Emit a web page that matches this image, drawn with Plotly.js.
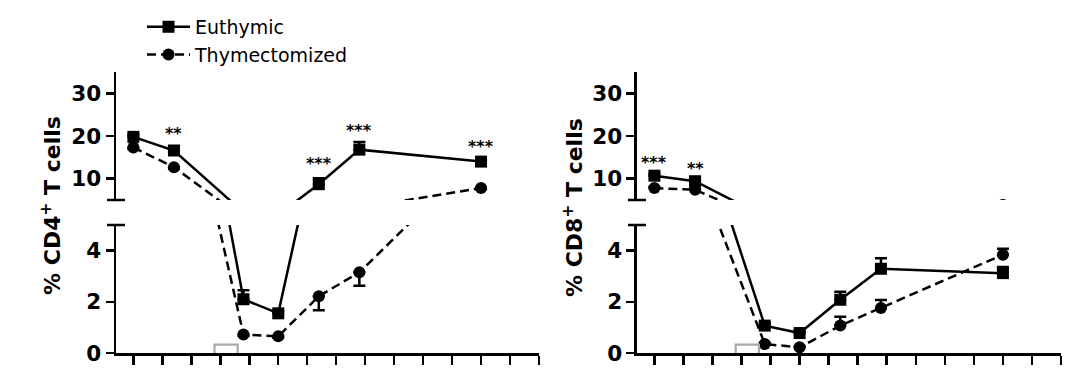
<!DOCTYPE html>
<html>
<head>
<meta charset="utf-8">
<script src="https://cdn.plot.ly/plotly-3.0.1.min.js"></script>
<style>html,body{margin:0;padding:0;background:#fff;}#chart{width:1080px;height:377px;}</style>
</head>
<body>
<div id="chart"></div>
<script>
// ---- data (x in axis-tick units) ----
const timepoints = [0, 1.4, 3.8, 5, 6.4, 7.8, 12];
const xTicks = [0,1,2,3,4,5,6,7,8,9,10,11,12,13,14];
const seriesNames = ['Euthymic', 'Thymectomized'];

const cd4Euthymic      = [19.8, 16.6, 2.1, 1.55, 8.7, 16.8, 14.0];
const cd4EuthymicErr   = [0.5, 0.9, 0.35, 0.1, 1.4, 1.8, 0.4];
const cd4EuthymicErrDn = [0, 0, 0, 0, 0, 0, 0];
const cd4Thymect       = [17.3, 12.7, 0.72, 0.65, 2.22, 3.15, 7.8];
const cd4ThymectErrUp  = [0, 0, 0, 0, 0, 0, 0];
const cd4ThymectErr    = [0.4, 0.4, 0.05, 0.05, 0.55, 0.52, 0.3];

const cd8Euthymic      = [10.7, 9.4, 1.07, 0.78, 2.08, 3.29, 3.12];
const cd8EuthymicErr   = [0.4, 0.8, 0.1, 0.08, 0.31, 0.41, 0.24];
const cd8EuthymicErrDn = [0, 0, 0, 0, 0, 0, 0];
const cd8Thymect       = [7.8, 7.4, 0.35, 0.22, 1.07, 1.76, 3.84];
const cd8ThymectErr    = [0.3, 0.3, 0.05, 0.05, 0.35, 0.31, 0.23];
const cd8ThymectErrDn  = [0, 0, 0, 0, 0, 0, 0];

const lowerTicks = [0, 2, 4];
const upperTicks = [10, 20, 30];
const lowerRange = [0, 5];
const upperRange = [5, 35];

// significance labels
const cd4SigX = [1.4, 6.4, 7.8, 12];
const cd4SigY = [20.9, 13.8, 21.5, 17.8];
const cd4SigText = ['**', '***', '***', '***'];
const cd8SigX = [0, 1.4];
const cd8SigY = [14.0, 12.7];
const cd8SigText = ['***', '**'];

const treatWindow = [2.8, 3.6];
const treatBox = [-0.05, 0.33];

const titles = ['% CD4<sup>+</sup> T cells', '% CD8<sup>+</sup> T cells'];

// ---- styling ----
const FONT = 'DejaVu Sans, Arial, sans-serif';
const LW = 2.5;

function trace(y, up, dn, name, isEu, xa, ya, showLegend) {
  return {
    type: 'scatter', mode: 'lines+markers',
    x: timepoints, y: y, name: name,
    xaxis: xa, yaxis: ya, showlegend: showLegend, legendgroup: name,
    line: {color: '#000', width: LW, dash: isEu ? 'solid' : '9px,5px'},
    marker: {symbol: isEu ? 'square' : 'circle', size: 12, color: '#000', line: {width: 0}},
    error_y: {type: 'data', symmetric: false, array: up, arrayminus: dn,
              color: '#000', thickness: LW, width: 6},
    cliponaxis: true,
    hoverinfo: 'skip'
  };
}

const data = [];
// CD4 panel: lower (x,y) and upper (x,y2)
[['x','y'],['x','y2']].forEach(([xa,ya]) => {
  data.push(trace(cd4Thymect, cd4ThymectErrUp, cd4ThymectErr, seriesNames[1], false, xa, ya, false));
  data.push(trace(cd4Euthymic, cd4EuthymicErr, cd4EuthymicErrDn, seriesNames[0], true, xa, ya, false));
});
// CD8 panel: lower (x2,y3) and upper (x2,y4)
[['x2','y3'],['x2','y4']].forEach(([xa,ya]) => {
  data.push(trace(cd8Thymect, cd8ThymectErr, cd8ThymectErrDn, seriesNames[1], false, xa, ya, false));
  data.push(trace(cd8Euthymic, cd8EuthymicErr, cd8EuthymicErrDn, seriesNames[0], true, xa, ya, false));
});
// legend entries
data[1].showlegend = true;
data[0].showlegend = true;

const tickFont = {family: FONT, size: 21.5, color: '#000', weight: 'bold'};

function xAxis(domain, anchor) {
  return {domain: domain, anchor: anchor, range: [-0.6, 14],
    showgrid: false, zeroline: false, showline: true, linecolor: '#000', linewidth: LW,
    ticks: 'outside', ticklen: 9, tickwidth: LW, tickcolor: '#000',
    tickmode: 'array', tickvals: xTicks, showticklabels: false, fixedrange: true};
}
function yAxis(domain, anchor, range, tvals) {
  return {domain: domain, anchor: anchor, range: range,
    showgrid: false, zeroline: false, showline: true, linecolor: '#000', linewidth: LW,
    ticks: 'outside', ticklen: 8, tickwidth: LW, tickcolor: '#000',
    tickmode: 'array', tickvals: tvals, ticktext: tvals.map(String),
    tickfont: tickFont, fixedrange: true, automargin: false};
}

const lowerDom = [0, 0.4555];
const upperDom = [0.5445, 1];
const leftDom = [0, 0.4476];
const rightDom = [0.5513, 1];

const shapes = [];
function breakCaps(xa, yLow, yUp) {
  shapes.push({type: 'line', xref: xa + ' domain', yref: yLow + ' domain',
    x0: -0.0213, x1: 0.0213, y0: 1, y1: 1, line: {color: '#000', width: LW}});
  shapes.push({type: 'line', xref: xa + ' domain', yref: yUp + ' domain',
    x0: -0.0213, x1: 0.0213, y0: 0, y1: 0, line: {color: '#000', width: LW}});
}
breakCaps('x', 'y', 'y2');
breakCaps('x2', 'y3', 'y4');
[['x','y'],['x2','y3']].forEach(([xa,ya]) => {
  shapes.push({type: 'rect', xref: xa, yref: ya, layer: 'above',
    x0: treatWindow[0], x1: treatWindow[1], y0: treatBox[0], y1: treatBox[1],
    line: {color: '#a8a8a8', width: 2.2}, fillcolor: 'rgba(255,255,255,0)'});
});

const annotations = [];
function sig(xs, ys, txt, xa, ya) {
  xs.forEach((xv, i) => annotations.push({x: xv, y: ys[i], xref: xa, yref: ya,
    text: txt[i], showarrow: false, xanchor: 'center', yanchor: 'middle', yshift: -1,
    font: {family: FONT, size: 16, color: '#000', weight: 'bold'}}));
}
sig(cd4SigX, cd4SigY, cd4SigText, 'x', 'y2');
sig(cd8SigX, cd8SigY, cd8SigText, 'x2', 'y4');
annotations.push({xref: 'paper', yref: 'paper', x: -0.0688, y: 0.527, text: titles[0],
  textangle: -90, showarrow: false, xanchor: 'center', yanchor: 'middle',
  font: {family: FONT, size: 22, color: '#000', weight: 'bold'}});
annotations.push({xref: 'paper', yref: 'paper', x: 0.4836, y: 0.516, text: titles[1],
  textangle: -90, showarrow: false, xanchor: 'center', yanchor: 'middle',
  font: {family: FONT, size: 22, color: '#000', weight: 'bold'}});

const layout = {
  width: 1080, height: 377,
  margin: {l: 116, r: 19, t: 72, b: 24, pad: 0, autoexpand: false},
  paper_bgcolor: '#fff', plot_bgcolor: 'rgba(0,0,0,0)',
  showlegend: true,
  legend: {x: 0.0275, y: 0.979, xref: 'paper', yref: 'container', xanchor: 'left', yanchor: 'top',
    bgcolor: 'rgba(0,0,0,0)', borderwidth: 0, itemwidth: 43,
    traceorder: 'reversed', font: {family: FONT, size: 19, color: '#000'}},
  xaxis: xAxis(leftDom, 'y'),
  xaxis2: xAxis(rightDom, 'y3'),
  yaxis: yAxis(lowerDom, 'x', lowerRange, lowerTicks),
  yaxis2: yAxis(upperDom, 'x', upperRange, upperTicks),
  yaxis3: yAxis(lowerDom, 'x2', lowerRange, lowerTicks),
  yaxis4: yAxis(upperDom, 'x2', upperRange, upperTicks),
  shapes: shapes,
  annotations: annotations
};

Plotly.newPlot('chart', data, layout, {staticPlot: true, displayModeBar: false});
</script>
</body>
</html>
